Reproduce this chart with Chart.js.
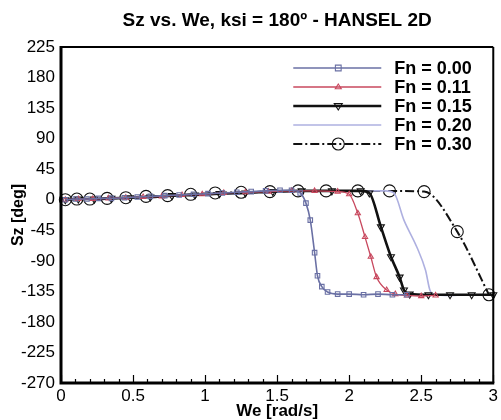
<!DOCTYPE html>
<html>
<head>
<meta charset="utf-8">
<script src="https://cdn.jsdelivr.net/npm/chart.js@4.4.1/dist/chart.umd.min.js"></script>
<style>
  html, body { margin: 0; padding: 0; background: #fff; }
</style>
</head>
<body>
<canvas id="c" width="501" height="420"></canvas>
<script>
// Heading angle response Sz against encounter frequency We, one curve per Froude number
const seriesLabels = ['Fn = 0.00', 'Fn = 0.11', 'Fn = 0.15', 'Fn = 0.20', 'Fn = 0.30'];

const weFn000 = [0.03, 0.10, 0.18, 0.26, 0.35, 0.44, 0.53, 0.62, 0.72, 0.82, 0.92, 1.02, 1.12, 1.22, 1.32, 1.42, 1.52, 1.60, 1.66, 1.70, 1.73, 1.76, 1.78, 1.81, 1.85, 1.92, 2.00, 2.10, 2.20, 2.30, 2.40];
const szFn000 = [0, 1, 1, 2, 2, 3, 4, 5, 6, 7, 8, 9, 10, 11, 12, 13, 14, 14, 10, -5, -30, -78, -112, -128, -136, -139, -139, -140, -139, -140, -140];

const weFn011 = [0.03, 0.12, 0.22, 0.33, 0.45, 0.57, 0.70, 0.84, 0.98, 1.13, 1.28, 1.44, 1.60, 1.76, 1.92, 2.00, 2.06, 2.11, 2.15, 2.19, 2.26, 2.32, 2.40, 2.50, 2.60];
const szFn011 = [0, 1, 1, 2, 3, 4, 5, 7, 8, 10, 11, 12, 13, 13, 12, 8, -20, -55, -84, -114, -133, -139, -141, -142, -141];

const weFn015 = [0.03, 0.12, 0.23, 0.35, 0.48, 0.62, 0.77, 0.93, 1.10, 1.28, 1.47, 1.67, 1.88, 2.08, 2.14, 2.22, 2.29, 2.35, 2.38, 2.42, 2.55, 2.70, 2.85, 3.00];
const szFn015 = [0, 1, 1, 2, 3, 4, 6, 7, 9, 10, 12, 13, 13, 13, 10, -40, -84, -114, -133, -139, -140, -140, -140, -140];

const weFn020 = [0.03, 0.13, 0.25, 0.38, 0.52, 0.67, 0.83, 1.00, 1.18, 1.38, 1.59, 1.81, 2.04, 2.25, 2.31, 2.38, 2.47, 2.53, 2.56, 2.59, 2.70, 2.80, 2.90];
const szFn020 = [0, 1, 1, 2, 3, 4, 6, 8, 9, 11, 12, 13, 13, 13, 10, -30, -70, -104, -133, -140, -141, -140, -140];

const weFn030 = [0.03, 0.11, 0.20, 0.32, 0.45, 0.59, 0.74, 0.90, 1.07, 1.25, 1.45, 1.645, 1.84, 2.06, 2.28, 2.52, 2.75, 2.97];
const szFn030 = [0, 1, 1, 2, 3, 5, 6, 8, 10, 11, 12, 13, 13, 13, 13, 12, -47, -140];

const yTickValues = [225, 180, 135, 90, 45, 0, -45, -90, -135, -180, -225, -270];
const xTickLabels = ['0', '0.5', '1', '1.5', '2', '2.5', '3'];

const FONT = '"Liberation Sans", Arial, Helvetica, sans-serif';

function pts(xs, ys) { return xs.map((x, i) => ({ x: x, y: ys[i] })); }

const styles = [
  { color: '#6a70a4', width: 1.6, marker: 'rect', radius: 3.2, rot: 0, dash: [] },
  { color: '#c8485e', width: 1.3, marker: 'triangle', radius: 3, rot: 0, dash: [] },
  { color: '#111111', width: 2.6, marker: 'triangle', radius: 4, rot: 180, dash: [] },
  { color: '#aeb0e0', width: 1.6, marker: false, radius: 0, rot: 0, dash: [] },
  { color: '#111111', width: 2, marker: 'circle', radius: 6, rot: 0, dash: [9, 3, 2, 3] }
];
const seriesData = [
  pts(weFn000, szFn000), pts(weFn011, szFn011), pts(weFn015, szFn015),
  pts(weFn020, szFn020), pts(weFn030, szFn030)
];

const datasets = seriesLabels.map((label, i) => {
  const s = styles[i];
  return {
    label: label,
    data: seriesData[i],
    borderColor: s.color,
    borderWidth: s.width,
    borderDash: s.dash,
    backgroundColor: 'rgba(0,0,0,0)',
    pointStyle: s.marker,
    pointRadius: s.radius,
    pointRotation: s.rot,
    pointBorderColor: s.color,
    pointBorderWidth: 1.1,
    pointBackgroundColor: 'rgba(0,0,0,0)',
    cubicInterpolationMode: 'monotone',
    fill: false,
    clip: 6
  };
});

function drawMarker(ctx, s, x, y) {
  if (!s.marker) return;
  ctx.save();
  ctx.strokeStyle = s.color;
  ctx.lineWidth = 1.1;
  ctx.setLineDash([]);
  ctx.beginPath();
  const r = s.radius;
  if (s.marker === 'rect') {
    ctx.rect(x - r * 0.9, y - r * 0.9, r * 1.8, r * 1.8);
  } else if (s.marker === 'circle') {
    ctx.arc(x, y, r, 0, Math.PI * 2);
  } else if (s.marker === 'triangle') {
    const dir = s.rot === 180 ? 1 : -1;
    ctx.moveTo(x, y + dir * r);
    ctx.lineTo(x - r, y - dir * r * 0.6);
    ctx.lineTo(x + r, y - dir * r * 0.6);
    ctx.closePath();
  }
  ctx.stroke();
  ctx.restore();
}

// Legend inside the plot, top right: line sample with marker, then bold label
const insideLegend = {
  id: 'insideLegend',
  afterDatasetsDraw(chart) {
    const ctx = chart.ctx;
    const a = chart.chartArea;
    chart.data.datasets.forEach((ds, i) => {
      const s = styles[i];
      const y = a.top + 21 + i * 19;
      const x0 = a.right - 200, x1 = a.right - 112;
      ctx.save();
      ctx.strokeStyle = s.color;
      ctx.lineWidth = s.width;
      ctx.setLineDash(s.dash);
      ctx.beginPath();
      ctx.moveTo(x0, y);
      ctx.lineTo(x1, y);
      ctx.stroke();
      ctx.restore();
      drawMarker(ctx, s, a.right - 155, y);
      ctx.save();
      ctx.fillStyle = '#000';
      ctx.font = 'bold 18px ' + FONT;
      ctx.textAlign = 'left';
      ctx.textBaseline = 'middle';
      ctx.fillText(ds.label, a.right - 99, y + 1);
      ctx.restore();
    });
  }
};

// Plot frame and inward-pointing ticks on the We axis
const frame = {
  id: 'frame',
  afterDraw(chart) {
    const ctx = chart.ctx;
    const a = chart.chartArea;
    const xs = chart.scales.x;
    ctx.save();
    ctx.strokeStyle = '#000';
    ctx.setLineDash([]);
    ctx.lineWidth = 2;
    ctx.beginPath();
    ctx.moveTo(a.left, a.top); ctx.lineTo(a.right, a.top);
    ctx.moveTo(a.right, a.top); ctx.lineTo(a.right, a.bottom);
    ctx.stroke();
    ctx.lineWidth = 3;
    ctx.beginPath();
    ctx.moveTo(a.left, a.top - 1); ctx.lineTo(a.left, a.bottom);
    ctx.lineTo(a.right + 1, a.bottom);
    ctx.stroke();
    ctx.lineWidth = 1.2;
    ctx.beginPath();
    for (let k = 0; k <= 30; k++) {
      const px = Math.round(xs.getPixelForValue(k / 10)) + 0.5;
      const len = (k % 5 === 0) ? 8 : 4;
      ctx.moveTo(px, a.bottom);
      ctx.lineTo(px, a.bottom - len);
    }
    ctx.stroke();
    ctx.restore();
  }
};

new Chart(document.getElementById('c'), {
  type: 'line',
  data: { datasets: datasets },
  plugins: [insideLegend, frame],
  options: {
    responsive: false,
    animation: false,
    devicePixelRatio: 1,
    layout: { padding: { left: 0, right: 4, top: 0, bottom: 0 } },
    plugins: {
      legend: { display: false },
      tooltip: { enabled: false },
      title: {
        display: true,
        fullSize: false,
        text: 'Sz vs. We, ksi = 180º - HANSEL 2D',
        color: '#000',
        font: { family: FONT, size: 19, weight: 'bold', lineHeight: 1 },
        padding: { top: 11, bottom: 17 }
      }
    },
    scales: {
      x: {
        type: 'linear',
        min: 0,
        max: 3,
        grid: { display: false, drawTicks: false },
        border: { display: false },
        ticks: {
          stepSize: 0.5,
          padding: 3,
          color: '#000',
          maxRotation: 0,
          autoSkip: false,
          font: { family: FONT, size: 17 },
          callback: (v) => xTickLabels[Math.round(v * 2)]
        },
        title: {
          display: true,
          text: 'We [rad/s]',
          color: '#000',
          font: { family: FONT, size: 17, weight: 'bold', lineHeight: 1 },
          padding: { top: 0, bottom: 0 }
        },
        afterFit: (s) => { s.height = 37; }
      },
      y: {
        type: 'linear',
        min: -270,
        max: 225,
        grid: { display: false, drawTicks: false },
        border: { display: false },
        afterBuildTicks: (s) => { s.ticks = yTickValues.map(v => ({ value: v })); },
        ticks: {
          padding: 6,
          color: '#000',
          autoSkip: false,
          font: { family: FONT, size: 17 },
          callback: (v) => String(v)
        },
        title: {
          display: true,
          text: 'Sz [deg]',
          color: '#000',
          font: { family: FONT, size: 16, weight: 'bold', lineHeight: 1 },
          padding: { top: 11, bottom: 0 }
        },
        afterFit: (s) => { s.width = 61; }
      }
    }
  }
});
</script>
</body>
</html>
